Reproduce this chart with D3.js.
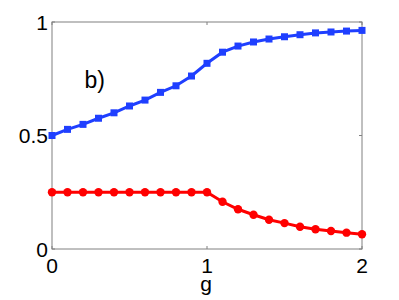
<!DOCTYPE html>
<html>
<head>
<meta charset="utf-8">
<script src="https://d3js.org/d3.v7.min.js"></script>
<style>
  body { margin: 0; background: #fff; }
  text { font-family: "Liberation Sans", Arial, sans-serif; fill: #000; }
</style>
</head>
<body>
<script>
// g values, 0 to 2 in steps of 0.1
var gValues = [0, 0.1, 0.2, 0.3, 0.4, 0.5, 0.6, 0.7, 0.8, 0.9, 1.0,
               1.1, 1.2, 1.3, 1.4, 1.5, 1.6, 1.7, 1.8, 1.9, 2.0];
var blueSeries = [0.500, 0.527, 0.549, 0.576, 0.600, 0.630, 0.656, 0.690, 0.719, 0.762, 0.818,
                  0.867, 0.894, 0.912, 0.925, 0.935, 0.944, 0.952, 0.956, 0.960, 0.963];
var redSeries = [0.25, 0.25, 0.25, 0.25, 0.25, 0.25, 0.25, 0.25, 0.25, 0.25, 0.25,
                 0.208, 0.175, 0.151, 0.129, 0.114, 0.098, 0.087, 0.079, 0.072, 0.065];
var xTicks = [0, 1, 2];
var yTicks = [0, 0.5, 1];
var yTickLabels = ["0", "0.5", "1"];

var width = 399, height = 300;
var margin = {top: 22, right: 37, bottom: 51, left: 52};

var svg = d3.select("body").append("svg")
    .attr("width", width)
    .attr("height", height);

var x = d3.scaleLinear().domain([0, 2]).range([margin.left, width - margin.right]);
var y = d3.scaleLinear().domain([0, 1]).range([height - margin.bottom, margin.top]);

var axisColor = "#808080";
var tickLen = 3;

// box
svg.append("rect")
    .attr("x", x(0)).attr("y", y(1))
    .attr("width", x(2) - x(0)).attr("height", y(0) - y(1))
    .attr("fill", "none").attr("stroke", axisColor).attr("stroke-width", 1);

// inward ticks on all sides
xTicks.forEach(function (t) {
    svg.append("line").attr("x1", x(t)).attr("x2", x(t))
        .attr("y1", y(0)).attr("y2", y(0) - tickLen)
        .attr("stroke", axisColor);
    svg.append("line").attr("x1", x(t)).attr("x2", x(t))
        .attr("y1", y(1)).attr("y2", y(1) + tickLen)
        .attr("stroke", axisColor);
});
yTicks.forEach(function (t) {
    svg.append("line").attr("x1", x(0)).attr("x2", x(0) + tickLen)
        .attr("y1", y(t)).attr("y2", y(t))
        .attr("stroke", axisColor);
    svg.append("line").attr("x1", x(2)).attr("x2", x(2) - tickLen)
        .attr("y1", y(t)).attr("y2", y(t))
        .attr("stroke", axisColor);
});

// tick labels
svg.selectAll(".xlab").data(xTicks).enter().append("text")
    .attr("x", function (d) { return x(d); })
    .attr("y", y(0) + 24)
    .attr("text-anchor", "middle")
    .style("font-size", "21px")
    .text(function (d) { return d; });

svg.selectAll(".ylab").data(yTicks).enter().append("text")
    .attr("x", x(0) - 4)
    .attr("y", function (d) { return y(d); })
    .attr("dy", "0.36em")
    .attr("text-anchor", "end")
    .style("font-size", "21px")
    .text(function (d, i) { return yTickLabels[i]; });

// axis label
svg.append("text")
    .attr("x", x(1) - 1)
    .attr("y", y(0) + 42)
    .attr("text-anchor", "middle")
    .style("font-size", "21px")
    .text("g");

// panel label
svg.append("text")
    .attr("x", x(0.21))
    .attr("y", y(0.71))
    .style("font-size", "23px")
    .text("b)");

var line = d3.line()
    .x(function (d) { return x(d[0]); })
    .y(function (d) { return y(d[1]); });

var blueData = gValues.map(function (g, i) { return [g, blueSeries[i]]; });
var redData = gValues.map(function (g, i) { return [g, redSeries[i]]; });

var blue = "#1f3fff", red = "#ff0000";

svg.append("path").datum(blueData)
    .attr("d", line).attr("fill", "none")
    .attr("stroke", blue).attr("stroke-width", 3);
svg.selectAll(".sq").data(blueData).enter().append("rect")
    .attr("x", function (d) { return x(d[0]) - 3.5; })
    .attr("y", function (d) { return y(d[1]) - 3.5; })
    .attr("width", 7).attr("height", 7)
    .attr("fill", blue);

svg.append("path").datum(redData)
    .attr("d", line).attr("fill", "none")
    .attr("stroke", red).attr("stroke-width", 3);
svg.selectAll(".dot").data(redData).enter().append("circle")
    .attr("cx", function (d) { return x(d[0]); })
    .attr("cy", function (d) { return y(d[1]); })
    .attr("r", 4.2)
    .attr("fill", red);
</script>
</body>
</html>
